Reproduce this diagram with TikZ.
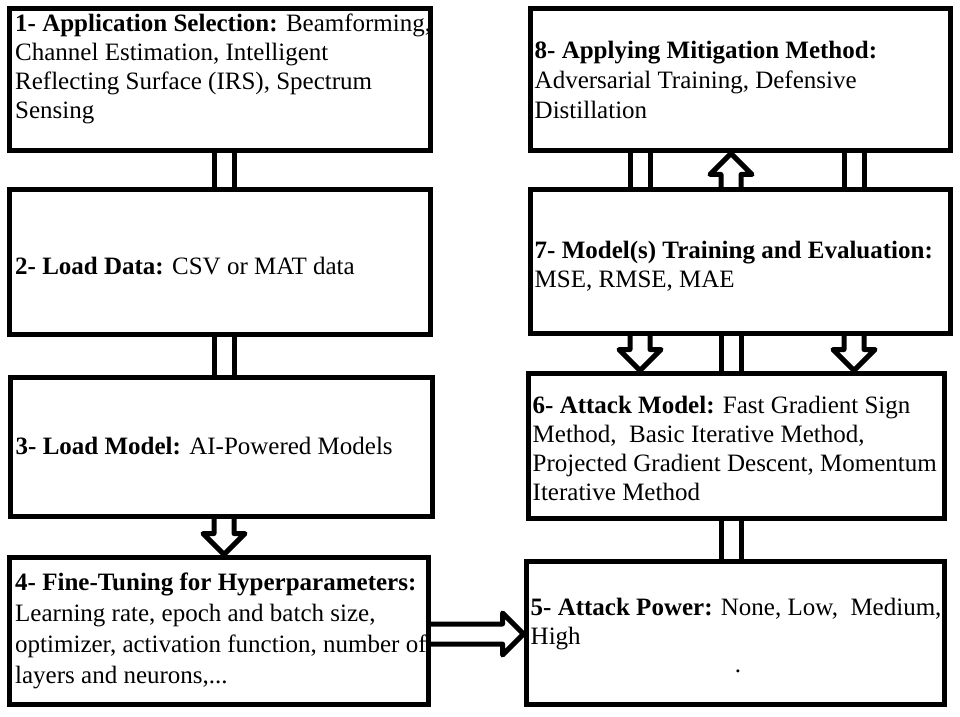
\documentclass[tikz,border=0pt]{standalone}
\usepackage{fontspec}
\setmainfont{Liberation Serif}
\usetikzlibrary{calc}
\tikzset{
  box/.style={draw, line width=5pt, inner sep=0pt, outer sep=2.5pt},
  txt/.style={align=left, inner sep=0pt, anchor=west, font=\fontsize{25}{29}\selectfont},
  twin/.style={line width=5pt, double, double distance=15pt},
  hollow/.style={line width=5pt, line join=round},
}
\begin{document}
\begin{tikzpicture}[x=1pt, y=1pt]
  \useasboundingbox (0,0) rectangle (960,716);
  % left column
  \node[box, minimum width=421pt, minimum height=142pt] (app) at (220,636) {};
  \node[box, minimum width=421pt, minimum height=144pt] (load) at (220,454) {};
  \node[box, minimum width=422pt, minimum height=139pt] (model) at (221,269.5) {};
  \node[box, minimum width=419pt, minimum height=147pt] (tune) at (219,85.5) {};
  % right column
  \node[box, minimum width=420pt, minimum height=142pt] (mitig) at (740,636) {};
  \node[box, minimum width=420pt, minimum height=143pt] (train) at (740,454.5) {};
  \node[box, minimum width=416pt, minimum height=145pt] (attack) at (736,270.5) {};
  \node[box, minimum width=418pt, minimum height=143pt] (power) at (735,83.5) {};
  % texts
  \node[txt] (app-t) at ([xshift=8pt,yshift=11pt]app.west)
    {\textbf{1- Application Selection:} Beamforming,\\ Channel Estimation, Intelligent\\ Reflecting Surface (IRS), Spectrum\\ Sensing};
  \node[txt] (load-t) at ([xshift=8pt,yshift=-4pt]load.west)
    {\textbf{2- Load Data:} CSV or MAT data};
  \node[txt] (model-t) at ([xshift=8pt]model.west)
    {\textbf{3- Load Model:} AI-Powered Models};
  \node[txt, font=\fontsize{25}{31}\selectfont] (tune-t) at ([xshift=8pt]tune.west)
    {\textbf{4- Fine-Tuning for Hyperparameters:}\\ Learning rate, epoch and batch size,\\ optimizer, activation function, number of\\ layers and neurons,...};
  \node[txt, font=\fontsize{25}{30}\selectfont] (mitig-t) at ([xshift=7pt]mitig.west)
    {\textbf{8- Applying Mitigation Method:}\\ Adversarial Training, Defensive\\ Distillation};
  \node[txt] (train-t) at ([xshift=7pt,yshift=-5pt]train.west)
    {\textbf{7- Model(s) Training and Evaluation:}\\ MSE, RMSE, MAE};
  \node[txt] (attack-t) at ([xshift=7pt,yshift=-3pt]attack.west)
    {\textbf{6- Attack Model:} Fast Gradient Sign\\ Method, \ Basic Iterative Method,\\ Projected Gradient Descent, Momentum\\ Iterative Method};
  \node[txt] (power-t) at ([xshift=7pt,yshift=8pt]power.west)
    {\textbf{5- Attack Power:} None, Low, \ Medium,\\ High};
  \node[txt, anchor=center] (power-dot) at (738,45) {.};
  % connector columns
  \coordinate (lc) at (224,0);
  \coordinate (ra) at (640,0);
  \coordinate (rb) at (731,0);
  \coordinate (rc) at (854,0);
  \coordinate (hr) at (0,82);
  % double lines
  \draw[twin] (lc |- app.south) -- (lc |- load.north);
  \draw[twin] (lc |- load.south) -- (lc |- model.north);
  \draw[twin] (ra |- mitig.south) -- (ra |- train.north);
  \draw[twin] (rc |- mitig.south) -- (rc |- train.north);
  \draw[twin] (rb |- train.south) -- (rb |- attack.north);
  \draw[twin] (rb |- attack.south) -- (rb |- power.north);
  % hollow arrows
  \draw[hollow] let \p1=(lc |- model.south), \p2=(lc |- tune.north) in
    (\x1-10pt,\y1) -- (\x1-10pt,\y2+21pt) -- (\x1-21pt,\y2+21pt) -- (\p2)
    -- (\x1+21pt,\y2+21pt) -- (\x1+10pt,\y2+21pt) -- (\x1+10pt,\y1);
  \draw[hollow] let \p1=(rb |- train.north), \p2=(rb |- mitig.south) in
    (\x1-10pt,\y1) -- (\x1-10pt,\y2-21pt) -- (\x1-21pt,\y2-21pt) -- (\p2)
    -- (\x1+21pt,\y2-21pt) -- (\x1+10pt,\y2-21pt) -- (\x1+10pt,\y1);
  \draw[hollow] let \p1=(ra |- train.south), \p2=(ra |- attack.north) in
    (\x1-10pt,\y1) -- (\x1-10pt,\y2+21pt) -- (\x1-21pt,\y2+21pt) -- (\p2)
    -- (\x1+21pt,\y2+21pt) -- (\x1+10pt,\y2+21pt) -- (\x1+10pt,\y1);
  \draw[hollow] let \p1=(rc |- train.south), \p2=(rc |- attack.north) in
    (\x1-10pt,\y1) -- (\x1-10pt,\y2+21pt) -- (\x1-21pt,\y2+21pt) -- (\p2)
    -- (\x1+21pt,\y2+21pt) -- (\x1+10pt,\y2+21pt) -- (\x1+10pt,\y1);
  \draw[hollow] let \p1=(tune.east |- hr), \p2=(power.west |- hr) in
    (\x1,\y1+10pt) -- (\x2-21pt,\y1+10pt) -- (\x2-21pt,\y1+21pt) -- (\p2)
    -- (\x2-21pt,\y1-21pt) -- (\x2-21pt,\y1-10pt) -- (\x1,\y1-10pt);
\end{tikzpicture}
\end{document}
